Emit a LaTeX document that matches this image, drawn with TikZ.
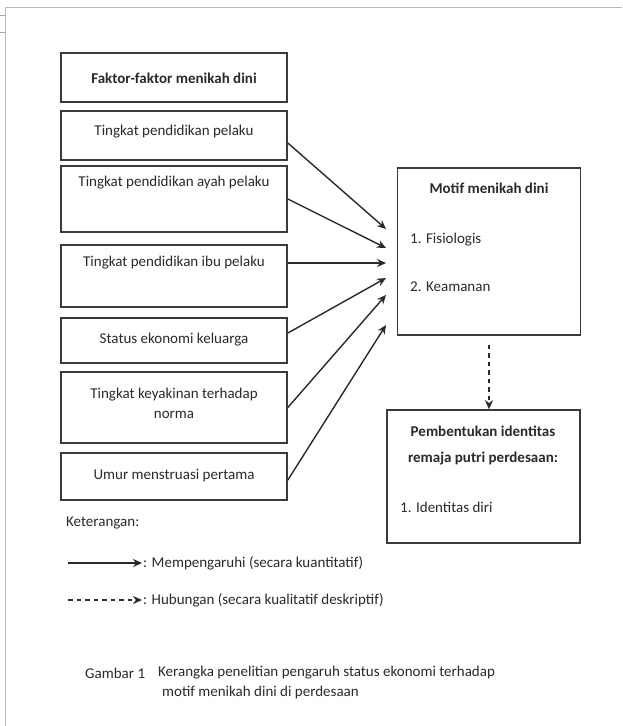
\documentclass[tikz,border=0pt]{standalone}
\usepackage{fontspec}
\setmainfont{Carlito}
\usetikzlibrary{arrows.meta}
\definecolor{ink}{HTML}{2A2A2A}
\definecolor{edge}{HTML}{3A3A3A}
\begin{document}
\begin{tikzpicture}[x=1pt,y=-1pt,
  box/.style={draw=edge, line width=1.7pt, inner sep=0pt},
  txt/.style={text=ink, font=\fontsize{15}{18}\selectfont, inner sep=0pt},
  btxt/.style={txt, font=\fontsize{15}{18}\selectfont\bfseries},
  arr/.style={draw=ink, line width=1.4pt, -{Stealth[length=9pt,width=8pt]}},
  darr/.style={arr, dash pattern=on 4.5pt off 4pt}]
\useasboundingbox (0,0) rectangle (622,726);
\fill[white] (0,0) rectangle (622,726);
% frame
\draw[gray!55, line width=1pt] (5,726) -- (5,7) -- (622,7);
\draw[gray!70, line width=0.6pt] (0,15) -- (5,15) (0,32) -- (5,32);
% factor boxes
\node[box, minimum width=226, minimum height=49] (b0) at (174,77.5) {};
\node[btxt] (t0) at (174,78) {Faktor-faktor menikah dini};
\node[box, minimum width=226, minimum height=49] (b1) at (174,135.5) {};
\node[txt] (t1) at (174,132) {Tingkat pendidikan pelaku};
\node[box, minimum width=226, minimum height=66] (b2) at (174,199) {};
\node[txt] (t2) at (174,183) {Tingkat pendidikan ayah pelaku};
\node[box, minimum width=226, minimum height=62] (b3) at (174,276) {};
\node[txt] (t3) at (174,263) {Tingkat pendidikan ibu pelaku};
\node[box, minimum width=226, minimum height=45] (b4) at (174,340.5) {};
\node[txt] (t4) at (174,340) {Status ekonomi keluarga};
\node[box, minimum width=226, minimum height=71] (b5) at (174,407.5) {};
\node[txt, align=center, font=\fontsize{15}{20}\selectfont] (t5) at (174,403) {Tingkat keyakinan terhadap\\norma};
\node[box, minimum width=226, minimum height=47] (b6) at (174,476.5) {};
\node[txt] (t6) at (174,476) {Umur menstruasi pertama};
% motif box
\node[box, minimum width=183, minimum height=167] (m) at (489,251.5) {};
\node[btxt] (mt) at (489,188) {Motif menikah dini};
\node[txt, anchor=west] (m1) at (410,240) {1. Fisiologis};
\node[txt, anchor=west] (m2) at (410,287) {2. Keamanan};
% identity box
\node[box, minimum width=193, minimum height=133] (id) at (483.5,476.5) {};
\node[btxt, align=center, font=\fontsize{15}{26}\selectfont\bfseries] (idt) at (483,445) {Pembentukan identitas\\remaja putri perdesaan:};
\node[txt, anchor=west] (id1) at (400,507) {1. Identitas diri};
% arrow tips
\coordinate (p1) at (386,229);
\coordinate (p2) at (386,248);
\coordinate (p3) at (386,263);
\coordinate (p4) at (386,278);
\coordinate (p5) at (386,295);
\coordinate (p6) at (386,325);
\draw[arr] ([yshift=-7.5pt]b1.east) -- (p1);
\draw[arr] (b2.east) -- (p2);
\draw[arr] ([yshift=13pt]b3.east) -- (p3);
\draw[arr] ([yshift=7.5pt]b4.east) -- (p4);
\draw[arr] (b5.east) -- (p5);
\draw[arr] ([yshift=-3.5pt]b6.east) -- (p6);
\draw[darr] ([yshift=-9pt]m.south) -- (m.south |- id.north);
% legend
\node[txt, anchor=west] (ket) at (66,523) {Keterangan:};
\coordinate (la1) at (68,563);
\node[txt, anchor=west] (lt1) at (143,563) {: Mempengaruhi (secara kuantitatif)};
\draw[arr] (la1) -- ([xshift=-1pt]lt1.west);
\coordinate (la2) at (68,600);
\node[txt, anchor=west] (lt2) at (143,600) {: Hubungan (secara kualitatif deskriptif)};
\draw[darr] (la2) -- ([xshift=-1pt]lt2.west);
% caption
\node[txt, anchor=west] (cap0) at (85,673) {Gambar 1};
\node[txt, anchor=west] (cap1) at (158,673) {Kerangka penelitian pengaruh status ekonomi terhadap};
\node[txt, anchor=west] (cap2) at (162,692) {motif menikah dini di perdesaan};
\end{tikzpicture}
\end{document}
